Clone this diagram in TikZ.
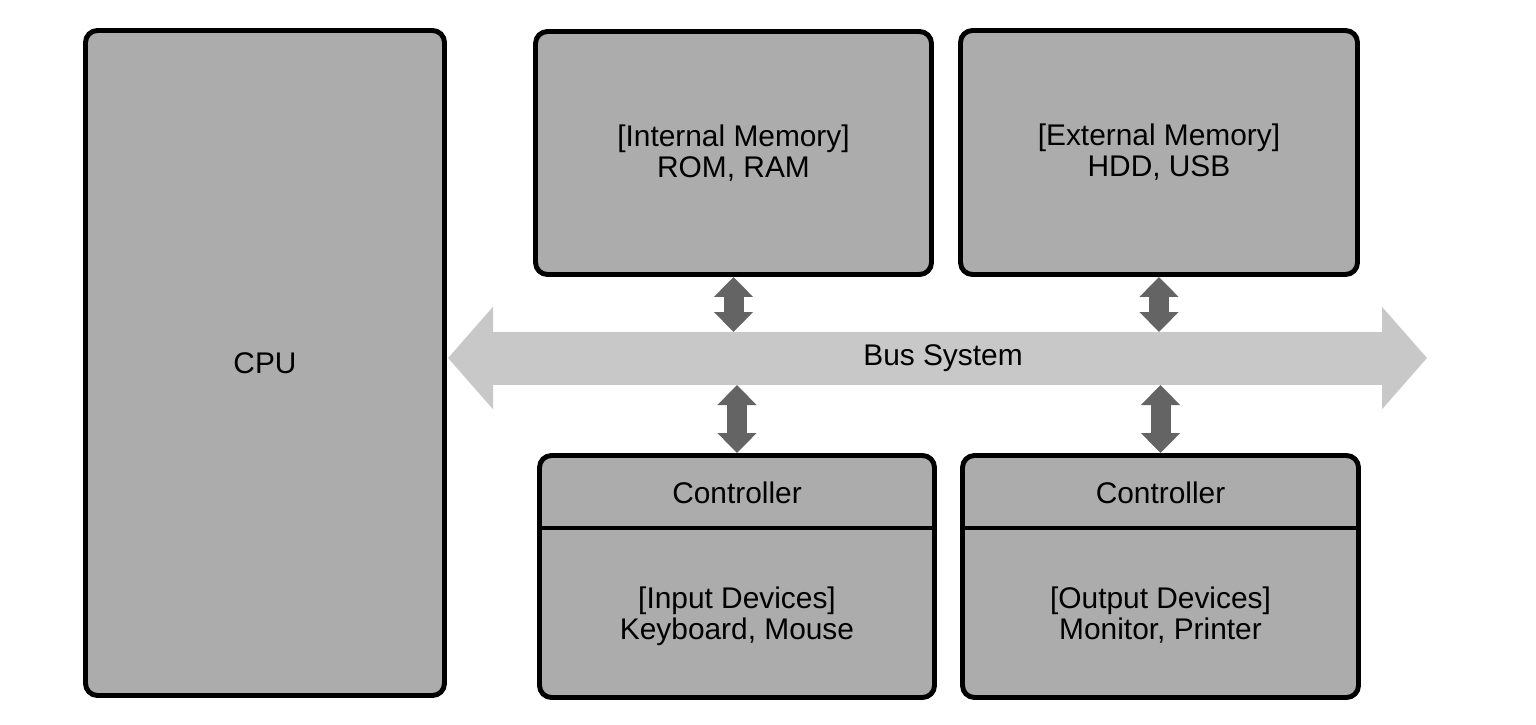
\documentclass[tikz,border=0pt]{standalone}
\usepackage{fontspec}
\setmainfont{Liberation Sans}
\usetikzlibrary{arrows.meta,positioning}

\definecolor{boxgray}{RGB}{172,172,172}
\definecolor{busgray}{RGB}{200,200,200}
\definecolor{linkgray}{RGB}{100,100,100}

\tikzset{
  unit/.style={draw=black, line width=1.4pt, rounded corners=0.12cm, fill=boxgray,
    align=center, font=\fontsize{8.5}{8.8}\selectfont, inner sep=0pt},
  txt/.style={align=center, font=\fontsize{8.5}{8.8}\selectfont, inner sep=0pt},
  buspipe/.style={line width=0.53cm, draw=busgray,
    {Triangle[width=1.0cm,length=0.45cm]}-{Triangle[width=1.0cm,length=0.45cm]}},
  link/.style={line width=0.2cm, draw=linkgray,
    {Triangle[width=0.38cm,length=0.2cm]}-{Triangle[width=0.38cm,length=0.2cm]}}
}

\begin{document}
\begin{tikzpicture}
    \useasboundingbox (0,0) rectangle (15.36,7.24);

    % CPU
    \node[unit, minimum width=3.59cm, minimum height=6.65cm] (cpu) at (2.65,3.61) {CPU};

    % memories
    \node[unit, minimum width=3.96cm, minimum height=2.43cm] (imem) at (7.335,5.71)
        {[Internal Memory]\\ ROM, RAM};
    \node[unit, minimum width=3.97cm, minimum height=2.44cm] (emem) at (11.59,5.715)
        {[External Memory]\\ HDD, USB};

    % devices with controller
    \node[unit, minimum width=3.95cm, minimum height=2.42cm] (indev) at (7.37,1.475) {};
    \node[unit, minimum width=3.96cm, minimum height=2.42cm] (outdev) at (11.605,1.475) {};
    \coordinate (cut) at (0,1.96);
    \draw[line width=1.4pt] (indev.west |- cut) -- (indev.east |- cut);
    \draw[line width=1.4pt] (outdev.west |- cut) -- (outdev.east |- cut);
    \node[txt] (inctrl) at (7.37,2.31) {Controller};
    \node[txt] (outctrl) at (11.605,2.31) {Controller};
    \node[txt] (intxt) at (7.37,1.075) {[Input Devices]\\ Keyboard, Mouse};
    \node[txt] (outtxt) at (11.605,1.085) {[Output Devices]\\ Monitor, Printer};

    % bus
    \coordinate (busl) at (4.48,3.66);
    \coordinate (busr) at (14.27,3.66);
    \draw[buspipe] (busl) -- (busr);
    \node[txt] (bus) at (9.43,3.66) {Bus System};
    \coordinate (bustop) at (0,3.92);
    \coordinate (busbot) at (0,3.39);

    % links to bus
    \draw[link] (imem.south) -- (imem.south |- bustop);
    \draw[link] (emem.south) -- (emem.south |- bustop);
    \draw[link] (indev.north |- busbot) -- (indev.north);
    \draw[link] (outdev.north |- busbot) -- (outdev.north);
\end{tikzpicture}
\end{document}
